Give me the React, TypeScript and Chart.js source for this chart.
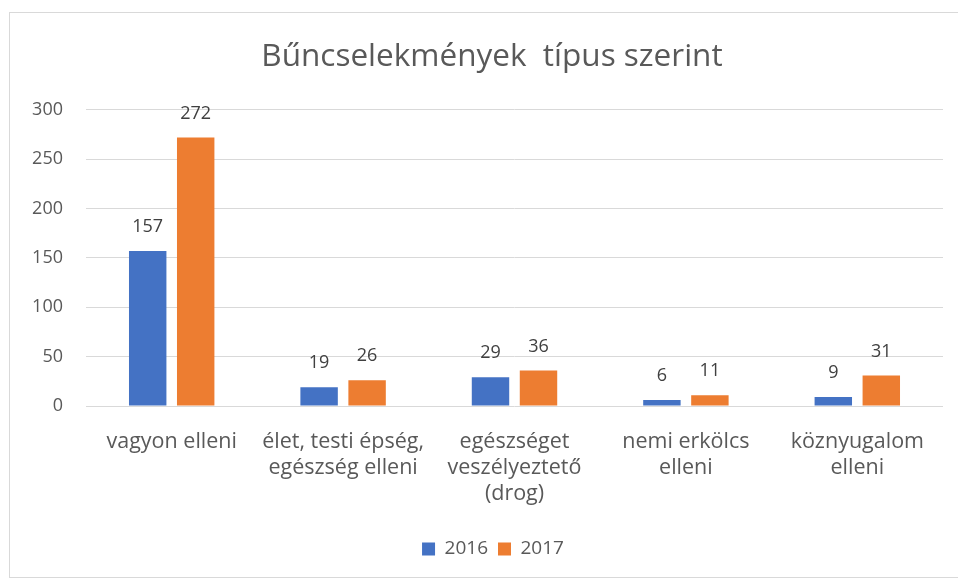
import React, { useEffect, useRef } from "react";
import { Chart, registerables } from "chart.js";

Chart.register(...registerables);

const title = "Bűncselekmények  típus szerint";
const categories: string[][] = [
  ["vagyon elleni"],
  ["élet, testi épség,", "egészség elleni"],
  ["egészséget", "veszélyeztető", "(drog)"],
  ["nemi erkölcs", "elleni"],
  ["köznyugalom", "elleni"],
];
const seriesNames = ["2016", "2017"];
const values2016 = [157, 19, 29, 6, 9];
const values2017 = [272, 26, 36, 11, 31];
const yTicks = [0, 50, 100, 150, 200, 250, 300];

const FONT = "'Open Sans', sans-serif";
const TEXT = "#595959";
const GRID = "#d9d9d9";

const dataLabels = {
  id: "dataLabels",
  afterDatasetsDraw(chart: any) {
    const ctx = chart.ctx;
    ctx.save();
    ctx.font = `18px ${FONT}`;
    ctx.fillStyle = "#404040";
    ctx.textAlign = "center";
    ctx.textBaseline = "middle";
    chart.data.datasets.forEach((ds: any, i: number) => {
      const meta = chart.getDatasetMeta(i);
      meta.data.forEach((bar: any, j: number) => {
        ctx.fillText(String(ds.data[j]), bar.x, bar.y - 24);
      });
    });
    ctx.restore();
  },
};

// shift the centre of the title and legend boxes to match the reference frame
const centreShift = {
  id: "centreShift",
  afterLayout(chart: any) {
    if (chart.titleBlock) chart.titleBlock.left += 41;
    if (chart.legend) chart.legend.left += 43;
  },
};

export default function App() {
  const ref = useRef<HTMLCanvasElement>(null);
  useEffect(() => {
    if (!ref.current) return;
    const chart = new Chart(ref.current, {
      type: "bar",
      data: {
        labels: categories,
        datasets: [
          {
            label: seriesNames[0],
            data: values2016,
            backgroundColor: "#4472C4",
            categoryPercentage: 0.56,
            barPercentage: 0.78,
          },
          {
            label: seriesNames[1],
            data: values2017,
            backgroundColor: "#ED7D31",
            categoryPercentage: 0.56,
            barPercentage: 0.78,
          },
        ],
      },
      options: {
        responsive: false,
        animation: false,
        devicePixelRatio: 1,
        layout: { padding: { left: 0, right: 15, top: 0, bottom: 12.5 } },
        plugins: {
          title: {
            display: true,
            text: title,
            color: TEXT,
            font: { family: FONT, size: 31.5, weight: "normal", lineHeight: 1.2 },
            padding: { top: 38, bottom: 34 },
          },
          legend: {
            position: "bottom",
            labels: {
              color: TEXT,
              font: { family: FONT, size: 19 },
              boxWidth: 13,
              boxHeight: 13,
              padding: 10,
            },
          },
          tooltip: { enabled: false },
        },
        scales: {
          x: {
            grid: { display: false, drawTicks: false },
            border: { display: false },
            ticks: {
              color: TEXT,
              font: { family: FONT, size: 21.5, lineHeight: 26 / 21.5 },
              padding: 23,
              maxRotation: 0,
              autoSkip: false,
            },
            afterFit(scale: any) {
              scale.height = 123.5;
            },
          },
          y: {
            min: 0,
            max: 300,
            grid: { color: GRID, drawTicks: false, lineWidth: 1 },
            border: { display: false },
            afterBuildTicks(scale: any) {
              scale.ticks = yTicks.map((v) => ({ value: v }));
            },
            ticks: {
              color: TEXT,
              font: { family: FONT, size: 18 },
              padding: 23,
            },
            afterFit(scale: any) {
              scale.width = 86;
            },
          },
        },
      },
      plugins: [centreShift, dataLabels],
    });
    return () => chart.destroy();
  }, []);

  return (
    <div
      style={{
        position: "fixed",
        left: 0,
        top: 0,
        width: 958,
        height: 581,
        overflow: "hidden",
        background: "#fff",
      }}
    >
      <div
        style={{
          position: "absolute",
          left: 9,
          top: 12,
          width: 966,
          height: 566,
          border: `1px solid ${GRID}`,
          boxSizing: "border-box",
        }}
      />
      <canvas
        ref={ref}
        width={958}
        height={581}
        style={{ position: "absolute", left: 0, top: 0, width: 958, height: 581 }}
      />
    </div>
  );
}
